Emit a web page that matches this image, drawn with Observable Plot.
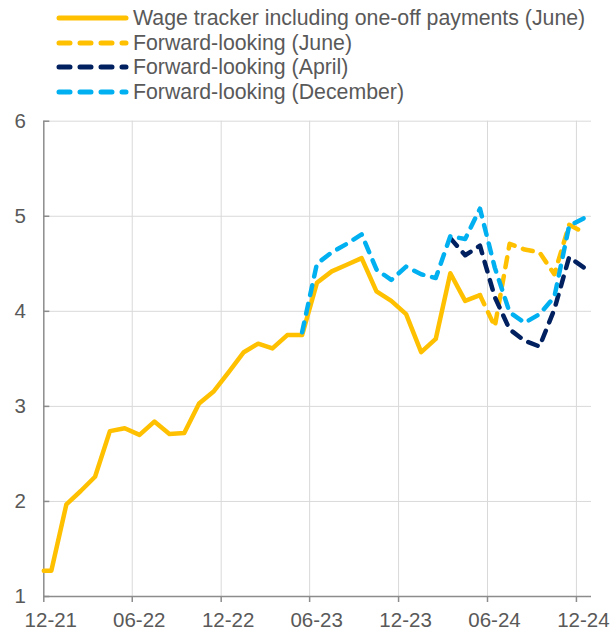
<!DOCTYPE html>
<html>
<head>
<meta charset="utf-8">
<script src="https://cdn.jsdelivr.net/npm/d3@7"></script>
<script src="https://cdn.jsdelivr.net/npm/@observablehq/plot@0.6"></script>
<style>
  body { margin: 0; background: #fff; font-family: "Liberation Sans", Arial, sans-serif; }
  #legend { position: relative; height: 110px; width: 614px; }
  .item { position: absolute; left: 0; height: 24px; display: flex; align-items: center; }
  .item svg { display: block; }
  .item span { font-size: 21.3px; color: #595959; margin-left: 4px; white-space: nowrap; line-height: 24px; }
  #chart svg { display: block; }
</style>
</head>
<body>
<div id="legend"></div>
<div id="chart"></div>
<script>
// ---- Data ----
const seriesNames = [
  "Wage tracker including one-off payments (June)",
  "Forward-looking (June)",
  "Forward-looking (April)",
  "Forward-looking (December)"
];

// wage tracker: first entry is the start of the axis, then monthly mid-month values
const wageMonths = ["2021-12-01",
  "2021-12","2022-01","2022-02","2022-03","2022-04","2022-05","2022-06","2022-07","2022-08","2022-09","2022-10","2022-11",
  "2022-12","2023-01","2023-02","2023-03","2023-04","2023-05","2023-06","2023-07","2023-08","2023-09","2023-10","2023-11",
  "2023-12","2024-01","2024-02","2024-03","2024-04","2024-05"];
const wageValues = [1.27,
  1.27, 1.97, 2.11, 2.26, 2.74, 2.77, 2.70, 2.84, 2.71, 2.72, 3.03, 3.16,
  3.36, 3.57, 3.66, 3.61, 3.75, 3.75, 4.30, 4.42, 4.49, 4.56, 4.21, 4.11,
  3.97, 3.57, 3.71, 4.40, 4.11, 4.17];

const juneMonths = ["2024-05","2024-06","2024-07","2024-08","2024-09","2024-10","2024-11","2024-12"];
const juneValues = [4.17, 3.84, 4.71, 4.65, 4.62, 4.39, 4.91, 4.83];

const aprilMonths = ["2024-03","2024-04","2024-05","2024-06","2024-07","2024-08","2024-09","2024-10","2024-11","2024-12"];
const aprilValues = [4.77, 4.59, 4.69, 4.15, 3.81, 3.69, 3.63, 4.02, 4.57, 4.46];

const decMonths = ["2023-05","2023-06","2023-07","2023-08","2023-09","2023-10","2023-11","2023-12",
  "2024-01","2024-02","2024-03","2024-04","2024-05","2024-06","2024-07","2024-08","2024-09","2024-10","2024-11","2024-12"];
const decValues = [3.78, 4.50, 4.62, 4.71, 4.81, 4.44, 4.33, 4.47,
  4.39, 4.35, 4.79, 4.76, 5.08, 4.46, 3.99, 3.88, 3.97, 4.15, 4.90, 4.98];

const xTickMonths = ["2021-12","2022-06","2022-12","2023-06","2023-12","2024-06","2024-12"];
const yTicks = [1, 2, 3, 4, 5, 6];
const xDomain = ["2021-12-01", "2025-01-01"];

// ---- Helpers ----
function toDate(s) {
  if (s.length > 7) return new Date(s + "T00:00:00Z");
  const [y, m] = s.split("-").map(Number);
  const a = Date.UTC(y, m - 1, 1), b = Date.UTC(y, m, 1);
  return new Date((a + b) / 2); // mid-month
}
function build(months, values, series) {
  return months.map((m, i) => ({date: toDate(m), value: values[i], series}));
}

const wage = build(wageMonths, wageValues, seriesNames[0]);
const june = build(juneMonths, juneValues, seriesNames[1]);
const april = build(aprilMonths, aprilValues, seriesNames[2]);
const dec = build(decMonths, decValues, seriesNames[3]);

const colors = ["#FFC000", "#FFC000", "#002060", "#00B0F0"];
const dashes = [null, "10,9", "10,9", "10,9"];
const LW = 4.5;
const xTicks = xTickMonths.map(m => new Date(m + "-01T00:00:00Z"));
const x0 = new Date(xDomain[0] + "T00:00:00Z");

// ---- Legend ----
const legend = document.getElementById("legend");
const legendY = [18.3, 42.7, 67.3, 92.3];
seriesNames.forEach((name, i) => {
  const div = document.createElement("div");
  div.className = "item";
  div.style.top = (legendY[i] - 12) + "px";
  div.style.left = "56px";
  const ns = "http://www.w3.org/2000/svg";
  const svg = document.createElementNS(ns, "svg");
  svg.setAttribute("width", 73); svg.setAttribute("height", 24);
  const ln = document.createElementNS(ns, "line");
  ln.setAttribute("x1", 3); ln.setAttribute("x2", 70);
  ln.setAttribute("y1", 12); ln.setAttribute("y2", 12);
  ln.setAttribute("stroke", colors[i]);
  ln.setAttribute("stroke-width", 5);
  ln.setAttribute("stroke-linecap", "round");
  if (dashes[i]) ln.setAttribute("stroke-dasharray", "11,10");
  svg.appendChild(ln);
  div.appendChild(svg);
  const sp = document.createElement("span");
  sp.textContent = name;
  div.appendChild(sp);
  legend.appendChild(div);
});

// ---- Chart ----
const lineOpts = (i) => ({
  x: "date", y: "value", stroke: colors[i], strokeWidth: LW,
  strokeLinejoin: "round", strokeLinecap: "round",
  ...(dashes[i] ? {strokeDasharray: dashes[i]} : {})
});

const chart = Plot.plot({
  width: 614,
  height: 520,
  marginLeft: 43.3,
  marginRight: 23,
  marginTop: 10.7,
  marginBottom: 34,
  style: {fontFamily: '"Liberation Sans", Arial, sans-serif', fontSize: "20.5px", background: "#fff", overflow: "visible"},
  x: {type: "utc", domain: xDomain.map(d => new Date(d + "T00:00:00Z"))},
  y: {domain: [1, 6]},
  marks: [
    Plot.gridY(yTicks.slice(1), {stroke: "#d9d9d9", strokeOpacity: 1, strokeWidth: 1}),
    Plot.gridX(xTicks.slice(1), {stroke: "#d9d9d9", strokeOpacity: 1, strokeWidth: 1}),
    Plot.ruleY([1], {stroke: "#8c8c8c", strokeWidth: 1.5}),
    Plot.ruleX([x0], {stroke: "#8c8c8c", strokeWidth: 1.5}),
    // inward y ticks
    Plot.axisY(yTicks, {tickSize: 6, dx: 6, stroke: "#8c8c8c", strokeWidth: 1.5, fill: "none", label: null}),
    // y labels
    Plot.axisY(yTicks, {tickSize: 0, tickPadding: 18, fill: "#595959", fontSize: "20.5px",
      tickFormat: d3.format("d"), label: null}),
    // x ticks (outward)
    Plot.axisX(xTicks, {tickSize: 6, stroke: "#8c8c8c", strokeWidth: 1.5, fill: "none", label: null}),
    // x labels (centred on the month)
    Plot.axisX(xTicks, {tickSize: 0, tickPadding: 15.5, dx: 7, fill: "#595959", fontSize: "20.5px",
      tickFormat: d3.utcFormat("%m-%y"), label: null}),
    Plot.line(wage, lineOpts(0)),
    Plot.line(june, lineOpts(1)),
    Plot.line(april, lineOpts(2)),
    Plot.line(dec, lineOpts(3))
  ]
});
document.getElementById("chart").appendChild(chart);
</script>
</body>
</html>
